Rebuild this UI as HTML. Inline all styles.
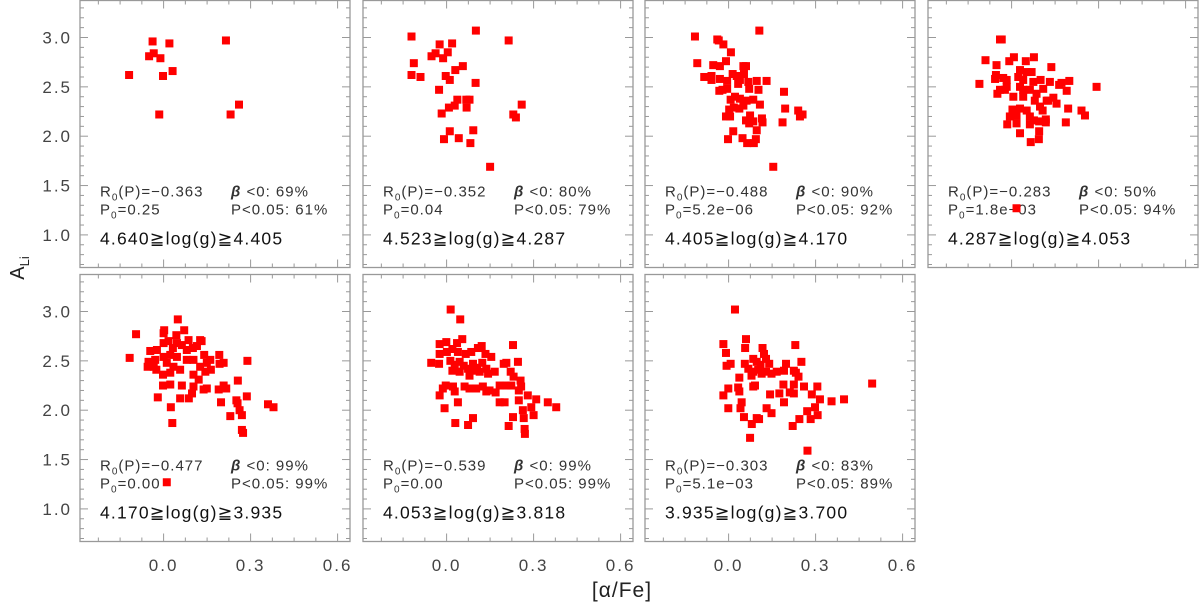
<!DOCTYPE html>
<html><head><meta charset="utf-8">
<style>
html,body{margin:0;padding:0;background:#fff;}
svg{display:block;font-family:"Liberation Sans",sans-serif;}
</style></head>
<body>
<svg id="chart" width="1200" height="604" viewBox="0 0 1200 604" xmlns="http://www.w3.org/2000/svg">
<text x="0" y="0" transform="translate(24,268) rotate(-90)" font-size="20" fill="#222" text-anchor="middle">A<tspan font-size="13" dy="5">Li</tspan></text>
<text x="622" y="597" font-size="21" fill="#222" text-anchor="middle" letter-spacing="1">[α/Fe]</text>
</svg>
<script>
// ---- data ----
const p1x=[-0.119,-0.050,-0.038,-0.034,-0.011,-0.002,0.020,0.031,-0.015,0.215,0.231,0.260];
const p1y=[2.62,2.81,2.96,2.84,2.79,2.61,2.94,2.66,2.22,2.97,2.22,2.32];
const p2x=[-0.121,0.101,0.214,-0.024,0.019,-0.052,-0.038,-0.012,0.004,-0.113,-0.121,-0.090,-0.003,0.011,0.030,0.056,0.100,-0.026,0.037,0.079,0.068,0.028,0.008,0.069,-0.017,0.259,0.230,0.239,0.011,0.092,-0.009,0.042,0.082,0.150];
const p2y=[3.01,3.07,2.97,2.93,2.94,2.81,2.84,2.79,2.85,2.74,2.62,2.60,2.61,2.57,2.67,2.71,2.54,2.47,2.37,2.37,2.37,2.31,2.29,2.29,2.23,2.32,2.22,2.19,2.05,2.06,1.97,1.98,1.93,1.69];
const p3x=[-0.116,0.106,-0.039,-0.034,-0.018,0.008,-0.108,-0.053,-0.030,-0.009,0.051,0.060,-0.084,-0.059,-0.059,-0.030,-0.005,0.014,0.028,0.039,0.053,0.033,0.068,0.071,0.097,0.103,0.131,-0.032,-0.021,-0.005,0.191,0.007,0.022,0.039,0.062,0.085,0.108,0.002,0.018,0.037,0.051,-0.009,0.005,0.074,0.060,0.071,0.085,0.115,0.117,0.195,0.240,0.246,0.255,0.186,0.016,0.097,-0.002,0.048,0.064,0.087,0.094,0.154];
const p3y=[3.01,3.07,2.98,2.97,2.93,2.85,2.74,2.72,2.71,2.76,2.71,2.71,2.60,2.61,2.57,2.58,2.56,2.63,2.61,2.57,2.63,2.53,2.55,2.48,2.56,2.47,2.56,2.46,2.47,2.48,2.45,2.37,2.40,2.38,2.36,2.37,2.32,2.27,2.29,2.28,2.31,2.20,2.20,2.21,2.16,2.13,2.15,2.18,2.14,2.28,2.26,2.20,2.22,2.14,2.05,2.06,1.97,1.98,1.93,1.93,1.97,1.69];
const p4x=[-0.040,-0.034,-0.090,-0.052,-0.008,0.008,0.049,0.077,0.137,-0.111,-0.057,-0.054,-0.029,-0.017,0.029,0.023,0.052,0.069,0.040,0.075,0.100,0.132,0.164,0.172,0.199,0.293,-0.049,-0.023,0.006,0.029,0.040,0.063,0.086,0.109,0.121,0.144,0.155,0.190,0.003,0.029,0.052,0.080,0.098,0.107,0.126,0.195,0.241,0.253,-0.006,-0.015,0.017,0.063,0.077,0.063,0.095,0.118,0.118,0.187,0.029,0.095,0.094,0.066,0.017,-0.017,-0.040,0.040,0.017];
const p4y=[2.98,2.98,2.77,2.72,2.76,2.80,2.76,2.80,2.70,2.53,2.58,2.62,2.59,2.57,2.67,2.60,2.65,2.65,2.57,2.55,2.57,2.55,2.52,2.54,2.56,2.50,2.43,2.47,2.40,2.50,2.40,2.47,2.43,2.48,2.36,2.39,2.33,2.46,2.27,2.28,2.26,2.36,2.30,2.26,2.36,2.28,2.26,2.21,2.20,2.12,2.21,2.20,2.16,2.12,2.15,2.17,2.14,2.14,2.03,2.05,1.97,1.94,2.13,2.50,2.47,2.47,1.27];
const p5x=[-0.117,-0.095,0.049,0.002,0.000,0.071,0.044,-0.023,-0.046,-0.055,-0.052,-0.029,-0.025,0.000,0.017,0.032,0.046,0.063,0.080,0.000,0.023,0.046,0.011,0.034,0.057,-0.002,0.023,0.080,0.101,0.115,0.131,0.140,0.161,0.126,0.144,0.163,0.103,0.121,0.063,-0.002,0.023,-0.020,0.025,0.057,0.087,0.098,0.103,0.138,0.149,0.190,0.207,0.216,0.192,0.207,0.193,0.289,0.256,0.287,0.251,0.255,0.198,0.262,0.270,0.230,0.270,0.274,0.030,0.360,0.379,0.011,0.126,0.086,0.103,0.149,-0.034];
const p5y=[2.53,2.77,2.92,2.81,2.78,2.81,2.76,2.61,2.60,2.44,2.49,2.51,2.41,2.68,2.70,2.63,2.68,2.66,2.61,2.54,2.56,2.54,2.48,2.44,2.41,2.36,2.38,2.51,2.63,2.65,2.70,2.56,2.51,2.44,2.39,2.41,2.36,2.31,2.25,2.25,2.26,2.13,2.03,2.12,2.12,2.17,2.24,2.21,2.22,2.21,2.25,2.22,2.56,2.48,2.47,2.50,2.30,2.14,2.10,2.07,2.08,2.00,1.95,1.94,1.80,1.77,1.87,2.06,2.03,1.27,2.71,2.71,2.51,2.48,2.44];
const p6x=[0.014,0.047,-0.024,-0.001,0.036,0.054,-0.024,0.001,0.020,0.039,0.066,0.085,0.108,0.121,0.134,0.154,0.229,-0.053,-0.026,0.013,0.028,0.045,0.059,0.074,0.091,0.105,0.123,0.137,0.166,0.197,0.206,0.246,0.020,0.045,0.079,0.097,0.114,0.143,0.221,0.231,-0.013,-0.003,0.022,0.028,0.062,0.079,0.102,0.125,0.137,0.148,0.169,0.183,0.206,0.223,0.255,0.257,-0.024,0.039,-0.007,0.183,0.200,0.249,0.280,0.309,0.249,0.292,0.349,0.378,0.263,0.300,0.229,0.266,0.091,0.074,0.030,0.214,0.269,0.270];
const p6y=[3.02,2.92,2.67,2.69,2.68,2.72,2.57,2.59,2.62,2.59,2.57,2.59,2.63,2.65,2.57,2.54,2.66,2.48,2.47,2.50,2.46,2.49,2.45,2.42,2.47,2.43,2.48,2.42,2.39,2.47,2.48,2.49,2.40,2.39,2.35,2.40,2.39,2.37,2.39,2.34,2.22,2.25,2.24,2.19,2.24,2.22,2.22,2.24,2.19,2.20,2.18,2.25,2.25,2.25,2.30,2.24,2.15,2.08,2.02,2.08,2.08,2.10,2.15,2.11,2.20,2.03,2.08,2.03,2.00,1.95,1.93,1.92,1.92,1.85,1.87,1.84,1.81,1.76];
const p7x=[0.022,-0.018,-0.009,0.060,0.057,-0.007,0.007,0.056,0.068,0.085,0.097,0.110,0.117,0.122,0.129,0.140,0.085,0.079,0.102,0.114,0.129,0.148,0.166,0.191,0.198,0.225,0.232,0.241,0.230,0.251,0.037,-0.001,0.033,0.037,0.085,0.091,-0.018,0.143,0.189,0.225,0.175,0.211,0.225,0.191,0.260,0.306,0.287,0.315,0.355,0.398,0.495,0.045,0.041,-0.001,0.131,0.148,0.053,0.097,0.105,0.080,0.074,0.221,0.244,0.271,0.283,0.298,0.307,0.272];
const p7y=[3.02,2.67,2.58,2.72,2.63,2.45,2.47,2.47,2.42,2.52,2.49,2.46,2.63,2.57,2.52,2.47,2.39,2.35,2.41,2.37,2.39,2.37,2.39,2.40,2.47,2.40,2.38,2.34,2.66,2.49,2.33,2.22,2.23,2.19,2.24,2.25,2.15,2.16,2.26,2.26,2.17,2.18,2.17,2.08,2.24,2.24,2.16,2.11,2.09,2.11,2.27,2.08,2.02,2.02,2.02,1.97,1.93,1.92,1.91,1.86,1.72,1.84,1.91,1.99,1.91,2.03,1.95,1.59];
const seriesX=[p1x,p2x,p3x,p4x,p5x,p6x,p7x];
const seriesY=[p1y,p2y,p3y,p4y,p5y,p6y,p7y];
const r0Labels=["−0.363","−0.352","−0.488","−0.283","−0.477","−0.539","−0.303"];
const p0Labels=["0.25","0.04","5.2e−06","1.8e−03","0.00","0.00","5.1e−03"];
const betaLabels=["69%","80%","90%","50%","99%","99%","83%"];
const pLabels=["61%","79%","92%","94%","99%","99%","89%"];
const loggLabels=["4.640≧log(g)≧4.405","4.523≧log(g)≧4.287","4.405≧log(g)≧4.170","4.287≧log(g)≧4.053","4.170≧log(g)≧3.935","4.053≧log(g)≧3.818","3.935≧log(g)≧3.700"];
const xTickVals=[0.0,0.3,0.6];
const xTickLabels=["0.0","0.3","0.6"];
const yTickVals=[1.0,1.5,2.0,2.5,3.0];
const yTickLabels=["1.0","1.5","2.0","2.5","3.0"];

// ---- layout ----
const svg=document.getElementById('chart');
const NS='http://www.w3.org/2000/svg';
const lefts=[80,363,645,928,80,363,645];
const tops=[0.5,0.5,0.5,0.5,274.5,274.5,274.5];
const W=270,H=267;
function xs(v,l){return l+83.6+v*290;}
function ys(v,t){return t+37+(3-v)*98.7;}
function mk(tag,attrs,parent){const e=document.createElementNS(NS,tag);for(const k in attrs)e.setAttribute(k,attrs[k]);(parent||svg).appendChild(e);return e;}

for(let p=0;p<7;p++){
  const l=lefts[p],t=tops[p];
  const g=mk('g',{});
  
  
  const box=mk('rect',{x:l,y:t,width:W,height:H,fill:'none',stroke:'#999','stroke-width':1.3},g);
  
  
  for(let i=0;i<=27;i++){
    const v=0.7+i*0.1; const y=ys(v,t);
    if(y<t+1||y>t+H-1) continue;
    const major=Math.abs((v*10)%5)<0.01||Math.abs((v*10)%5-5)<0.01;
    const len=major?8:4;
    mk('line',{x1:l,x2:l+len,y1:y,y2:y,stroke:'#999','stroke-width':1},g);
    mk('line',{x1:l+W,x2:l+W-len,y1:y,y2:y,stroke:'#999','stroke-width':1},g);
  }
  for(let i=-3;i<=8;i++){
    const v=i*0.075; const x=xs(v,l);
    if(x<l+1||x>l+W-1) continue;
    const major=(i%4===0);
    const len=major?8:4;
    mk('line',{x1:x,x2:x,y1:t+H,y2:t+H-len,stroke:'#999','stroke-width':1},g);
    mk('line',{x1:x,x2:x,y1:t,y2:t+len,stroke:'#999','stroke-width':1},g);
  }
  if(p===0||p===4){
    yTickVals.forEach((v,i)=>{
      const tx=mk('text',{x:l-8,y:ys(v,t)+6,'font-size':17,fill:'#444','text-anchor':'end','letter-spacing':2},g);
      tx.textContent=yTickLabels[i];
      
      
    });
  }
  if(p>=4){
    xTickVals.forEach((v,i)=>{
      const tx=mk('text',{x:xs(v,l),y:571,'font-size':17,fill:'#444','text-anchor':'middle','letter-spacing':2},g);
      tx.textContent=xTickLabels[i];
      
      
    });
  }
  const s1=mk('text',{x:l+20,y:t+196,'font-size':15,fill:'#333','letter-spacing':1},g);
  s1.innerHTML='R<tspan font-size="10" dy="4">0</tspan><tspan dy="-4">(P)=</tspan>'+r0Labels[p];
  
  
  const s2=mk('text',{x:l+20,y:t+214,'font-size':15,fill:'#333','letter-spacing':1},g);
  s2.innerHTML='P<tspan font-size="10" dy="4">0</tspan><tspan dy="-4">=</tspan>'+p0Labels[p];
  
  
  const s3=mk('text',{x:l+151,y:t+196,'font-size':15,fill:'#333','letter-spacing':1},g);
  s3.innerHTML='<tspan font-weight="bold" font-style="italic">β</tspan>  &lt;0: '+betaLabels[p];
  
  
  const s4=mk('text',{x:l+151,y:t+214,'font-size':15,fill:'#333','letter-spacing':1},g);
  s4.textContent='P<0.05: '+pLabels[p];
  
  
  const s5=mk('text',{x:l+20,y:t+244,'font-size':17.5,fill:'#111','letter-spacing':1.2},g);
  s5.textContent=loggLabels[p];
  
  
  const xsArr=seriesX[p], ysArr=seriesY[p];
  for(let i=0;i<xsArr.length;i++){
    const r=mk('rect',{x:xs(xsArr[i],l)-4,y:ys(ysArr[i],t)-4,width:8,height:8,fill:'#ff0000'},g);
    
    
  }
}
</script>
</body></html>
